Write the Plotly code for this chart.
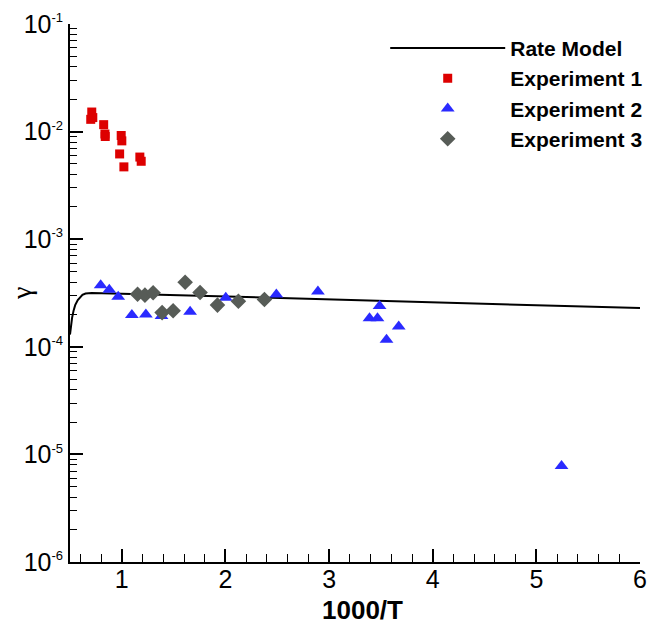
import plotly.graph_objects as go

# Rate model curve
model_x = [0.50, 0.51, 0.52, 0.535, 0.55, 0.575, 0.60, 0.62, 0.65, 0.68, 0.71, 1.0, 2.0, 3.0, 4.0, 5.0, 6.0]
model_y = [1.3e-4, 1.6e-4, 1.86e-4, 2.18e-4, 2.44e-4, 2.72e-4, 2.92e-4, 3.04e-4, 3.13e-4, 3.16e-4, 3.16e-4,
           3.12e-4, 2.94e-4, 2.76e-4, 2.59e-4, 2.44e-4, 2.29e-4]

# Experiment 1 (red squares)
exp1_x = [0.71, 0.72, 0.70, 0.825, 0.837, 0.84, 0.994, 1.0, 0.979, 1.02, 1.174, 1.187]
exp1_y = [0.0152, 0.0135, 0.0130, 0.0116, 0.0095, 0.0090, 0.0092, 0.0082, 0.0062, 0.0047, 0.0058, 0.0053]

# Experiment 2 (blue triangles)
exp2_x = [0.796, 0.879, 0.965, 1.097, 1.232, 1.383, 1.659, 2.003, 2.491, 2.892,
          3.390, 3.467, 3.487, 3.554, 3.672, 5.243]
exp2_y = [3.73e-4, 3.39e-4, 2.92e-4, 1.97e-4, 2.00e-4, 1.93e-4, 2.12e-4, 2.86e-4, 3.06e-4, 3.27e-4,
          1.84e-4, 1.84e-4, 2.39e-4, 1.16e-4, 1.54e-4, 7.8e-6]

# Experiment 3 (gray diamonds)
exp3_x = [1.152, 1.223, 1.302, 1.389, 1.495, 1.611, 1.755, 1.923, 2.125, 2.376]
exp3_y = [3.08e-4, 3.02e-4, 3.18e-4, 2.08e-4, 2.16e-4, 3.98e-4, 3.20e-4, 2.44e-4, 2.65e-4, 2.75e-4]

# Y tick values and labels
ytick_vals = [1e-6, 1e-5, 1e-4, 1e-3, 1e-2, 1e-1]
ytick_exps = ["-6", "-5", "-4", "-3", "-2", "-1"]
ytick_text = ["10<sup><span style='font-size:13px'>%s</span></sup>" % e for e in ytick_exps]

fig = go.Figure()
fig.add_trace(go.Scatter(x=model_x, y=model_y, mode="lines", name="Rate Model",
                         line=dict(color="black", width=2)))
fig.add_trace(go.Scatter(x=exp1_x, y=exp1_y, mode="markers", name="Experiment 1",
                         marker=dict(symbol="square", size=9, color="#dd0000")))
fig.add_trace(go.Scatter(x=exp2_x, y=exp2_y, mode="markers", name="Experiment 2",
                         marker=dict(symbol="triangle-up", size=12, color="#2a2aff")))
fig.add_trace(go.Scatter(x=exp3_x, y=exp3_y, mode="markers", name="Experiment 3",
                         marker=dict(symbol="diamond", size=12, color="#575c57")))

font_family = "Liberation Sans, Arial, Helvetica, sans-serif"

fig.update_layout(
    width=665, height=630,
    margin=dict(l=70, r=25, t=24, b=68),
    paper_bgcolor="white", plot_bgcolor="white",
    font=dict(family=font_family, color="black"),
    showlegend=True,
    legend=dict(x=0.553, y=0.993, xanchor="left", yanchor="top",
                font=dict(size=21, family=font_family, weight="bold"),
                bgcolor="rgba(0,0,0,0)", itemwidth=115, tracegroupgap=0),
    xaxis=dict(range=[0.5, 6], tick0=0, dtick=1, ticks="inside", ticklen=13, tickwidth=2,
               tickcolor="black", showline=True, linecolor="black", linewidth=2,
               showgrid=False, zeroline=False, mirror=False, automargin=False,
               tickfont=dict(size=25), ticklabelstandoff=-6,
               minor=dict(dtick=0.2, tick0=0, ticks="inside", ticklen=8, tickwidth=1, tickcolor="black", showgrid=False)),
    yaxis=dict(type="log", range=[-6, -1], tickmode="array", tickvals=ytick_vals, ticktext=ytick_text,
               ticks="inside", ticklen=13, tickwidth=2, tickcolor="black", showline=True, linecolor="black",
               linewidth=2, showgrid=False, zeroline=False, mirror=False, automargin=False,
               tickfont=dict(size=25),
               minor=dict(dtick="D1", ticks="inside", ticklen=7, tickwidth=1, tickcolor="black", showgrid=False)),
    annotations=[
        dict(text="<b>1000/T</b>", xref="paper", yref="paper", x=0.513, y=-0.089,
             xanchor="center", yanchor="middle", showarrow=False, font=dict(size=26)),
        dict(text="γ", xref="paper", yref="paper", x=-0.086, y=0.5, textangle=-90,
             xanchor="center", yanchor="middle", showarrow=False,
             font=dict(size=28, family="Liberation Serif, DejaVu Serif, serif")),
    ],
)

fig.write_html("out.html", config={"displayModeBar": False},
               post_script="document.body.style.margin='0px';")
